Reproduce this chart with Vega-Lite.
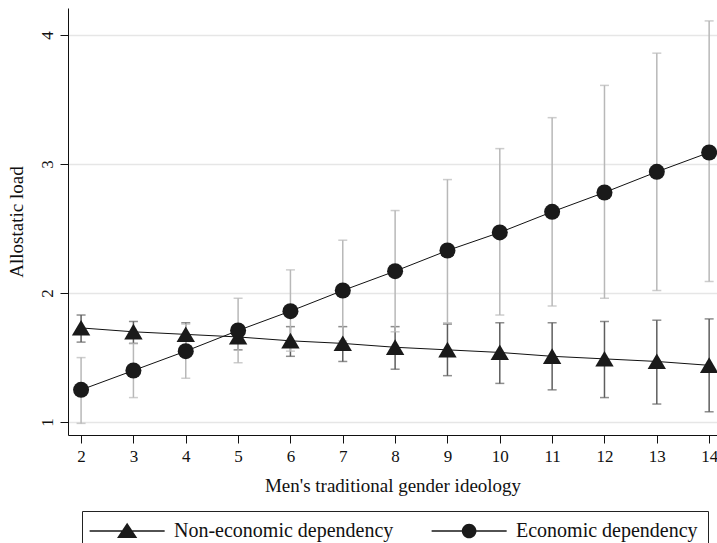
{
  "$schema": "https://vega.github.io/schema/vega-lite/v6.json",
  "width": 649,
  "height": 427,
  "autosize": {"type": "none"},
  "padding": {"left": 68, "top": 8, "right": 0, "bottom": 108},
  "background": "white",
  "config": {
    "view": {"stroke": null},
    "font": "Liberation Serif",
    "axis": {
      "labelFont": "Liberation Serif",
      "titleFont": "Liberation Serif",
      "labelColor": "#111",
      "titleColor": "#111",
      "domainColor": "#111",
      "tickColor": "#111",
      "labelFontSize": 17,
      "titleFontSize": 19,
      "titleFontWeight": "normal",
      "tickSize": 8
    }
  },
  "data": {
    "values": [
      {"series": "Economic dependency", "x": 2, "y": 1.25, "lo": 0.99, "hi": 1.50},
      {"series": "Economic dependency", "x": 3, "y": 1.40, "lo": 1.19, "hi": 1.61},
      {"series": "Economic dependency", "x": 4, "y": 1.55, "lo": 1.34, "hi": 1.76},
      {"series": "Economic dependency", "x": 5, "y": 1.71, "lo": 1.46, "hi": 1.96},
      {"series": "Economic dependency", "x": 6, "y": 1.86, "lo": 1.55, "hi": 2.18},
      {"series": "Economic dependency", "x": 7, "y": 2.02, "lo": 1.63, "hi": 2.41},
      {"series": "Economic dependency", "x": 8, "y": 2.17, "lo": 1.70, "hi": 2.64},
      {"series": "Economic dependency", "x": 9, "y": 2.33, "lo": 1.77, "hi": 2.88},
      {"series": "Economic dependency", "x": 10, "y": 2.47, "lo": 1.83, "hi": 3.12},
      {"series": "Economic dependency", "x": 11, "y": 2.63, "lo": 1.90, "hi": 3.36},
      {"series": "Economic dependency", "x": 12, "y": 2.78, "lo": 1.96, "hi": 3.61},
      {"series": "Economic dependency", "x": 13, "y": 2.94, "lo": 2.02, "hi": 3.86},
      {"series": "Economic dependency", "x": 14, "y": 3.09, "lo": 2.09, "hi": 4.11},
      {"series": "Non-economic dependency", "x": 2, "y": 1.73, "lo": 1.62, "hi": 1.83},
      {"series": "Non-economic dependency", "x": 3, "y": 1.70, "lo": 1.61, "hi": 1.78},
      {"series": "Non-economic dependency", "x": 4, "y": 1.68, "lo": 1.59, "hi": 1.77},
      {"series": "Non-economic dependency", "x": 5, "y": 1.66, "lo": 1.56, "hi": 1.75},
      {"series": "Non-economic dependency", "x": 6, "y": 1.63, "lo": 1.51, "hi": 1.74},
      {"series": "Non-economic dependency", "x": 7, "y": 1.61, "lo": 1.47, "hi": 1.74},
      {"series": "Non-economic dependency", "x": 8, "y": 1.58, "lo": 1.41, "hi": 1.74},
      {"series": "Non-economic dependency", "x": 9, "y": 1.56, "lo": 1.36, "hi": 1.76},
      {"series": "Non-economic dependency", "x": 10, "y": 1.54, "lo": 1.30, "hi": 1.77},
      {"series": "Non-economic dependency", "x": 11, "y": 1.51, "lo": 1.25, "hi": 1.77},
      {"series": "Non-economic dependency", "x": 12, "y": 1.49, "lo": 1.19, "hi": 1.78},
      {"series": "Non-economic dependency", "x": 13, "y": 1.47, "lo": 1.14, "hi": 1.79},
      {"series": "Non-economic dependency", "x": 14, "y": 1.44, "lo": 1.08, "hi": 1.80}
    ]
  },
  "encoding": {
    "x": {
      "field": "x", "type": "quantitative",
      "scale": {"domain": [1.75, 14.15], "nice": false, "zero": false},
      "axis": {
        "title": "Men's traditional gender ideology",
        "values": [2, 3, 4, 5, 6, 7, 8, 9, 10, 11, 12, 13, 14],
        "format": "d",
        "grid": false,
        "labelPadding": 5,
        "titlePadding": 12
      }
    },
    "y": {
      "field": "y", "type": "quantitative",
      "scale": {"domain": [0.9, 4.21], "nice": false, "zero": false},
      "axis": {
        "title": "Allostatic load",
        "values": [1, 2, 3, 4],
        "format": "d",
        "grid": true,
        "gridColor": "#e6e6e6",
        "gridWidth": 1.5,
        "labelAngle": -90,
        "labelAlign": "center",
        "labelBaseline": "bottom",
        "labelPadding": 4,
        "titlePadding": 12
      }
    }
  },
  "layer": [
    {
      "transform": [{"filter": "datum.series === 'Non-economic dependency'"}],
      "layer": [
        {"mark": {"type": "rule", "color": "#5e5e5e", "strokeWidth": 1.5},
         "encoding": {"y": {"field": "lo", "type": "quantitative"}, "y2": {"field": "hi"}}},
        {"mark": {"type": "tick", "orient": "horizontal", "color": "#5e5e5e", "size": 9, "thickness": 1.5},
         "encoding": {"y": {"field": "lo", "type": "quantitative"}}},
        {"mark": {"type": "tick", "orient": "horizontal", "color": "#5e5e5e", "size": 9, "thickness": 1.5},
         "encoding": {"y": {"field": "hi", "type": "quantitative"}}}
      ]
    },
    {
      "transform": [{"filter": "datum.series === 'Economic dependency'"}],
      "layer": [
        {"mark": {"type": "rule", "color": "#b8b8b8", "strokeWidth": 1.5},
         "encoding": {"y": {"field": "lo", "type": "quantitative"}, "y2": {"field": "hi"}}},
        {"mark": {"type": "tick", "orient": "horizontal", "color": "#b8b8b8", "size": 9, "thickness": 1.5},
         "encoding": {"y": {"field": "lo", "type": "quantitative"}}},
        {"mark": {"type": "tick", "orient": "horizontal", "color": "#b8b8b8", "size": 9, "thickness": 1.5},
         "encoding": {"y": {"field": "hi", "type": "quantitative"}}}
      ]
    },
    {
      "mark": {"type": "line", "color": "#111", "strokeWidth": 1},
      "encoding": {
        "detail": {"field": "series"}
      }
    },
    {
      "transform": [{"filter": "datum.series === 'Non-economic dependency'"}],
      "mark": {"type": "point", "filled": true, "opacity": 1, "color": "#1a1a1a", "size": 256, "shape": "M0,-1.0L1.15,0.95L-1.15,0.95Z"},
      "encoding": {}
    },
    {
      "transform": [{"filter": "datum.series === 'Economic dependency'"}],
      "mark": {"type": "point", "filled": true, "opacity": 1, "color": "#1a1a1a", "size": 256, "shape": "circle"},
      "encoding": {}
    },
    {
      "mark": {"type": "point", "filled": true, "opacity": 0, "color": "#1a1a1a", "size": 352},
      "encoding": {
        "shape": {
          "field": "series", "type": "nominal",
          "scale": {
            "domain": ["Non-economic dependency", "Economic dependency"],
            "range": [
              "M-1.32,-0.07H6.68V0.07H-1.32ZM2.68,-0.88L3.76,0.74L1.6,0.74Z",
              "M-1.32,-0.07H6.68V0.07H-1.32ZM3.46,0A0.78,0.78 0 1,1 1.9,0A0.78,0.78 0 1,1 3.46,0Z"
            ]
          },
          "legend": {
            "title": null,
            "orient": "none",
            "legendX": 14,
            "legendY": 503,
            "direction": "horizontal",
            "columns": 2,
            "columnPadding": 37,
            "strokeColor": "#222",
            "padding": 10,
            "labelFont": "Liberation Serif",
            "labelFontSize": 20,
            "labelColor": "#111",
            "labelOffset": 62,
            "labelLimit": 400,
            "symbolSize": 352,
            "symbolOpacity": 1,
            "symbolFillColor": "#111",
            "symbolStrokeColor": "#111",
            "symbolStrokeWidth": 0.3,
            "encode": {
              "symbols": {
                "update": {
                  "fill": {"value": "#111"},
                  "stroke": {"value": "#111"},
                  "strokeWidth": {"value": 0.3},
                  "opacity": {"value": 1}
                }
              }
            }
          }
        }
      }
    }
  ]
}
